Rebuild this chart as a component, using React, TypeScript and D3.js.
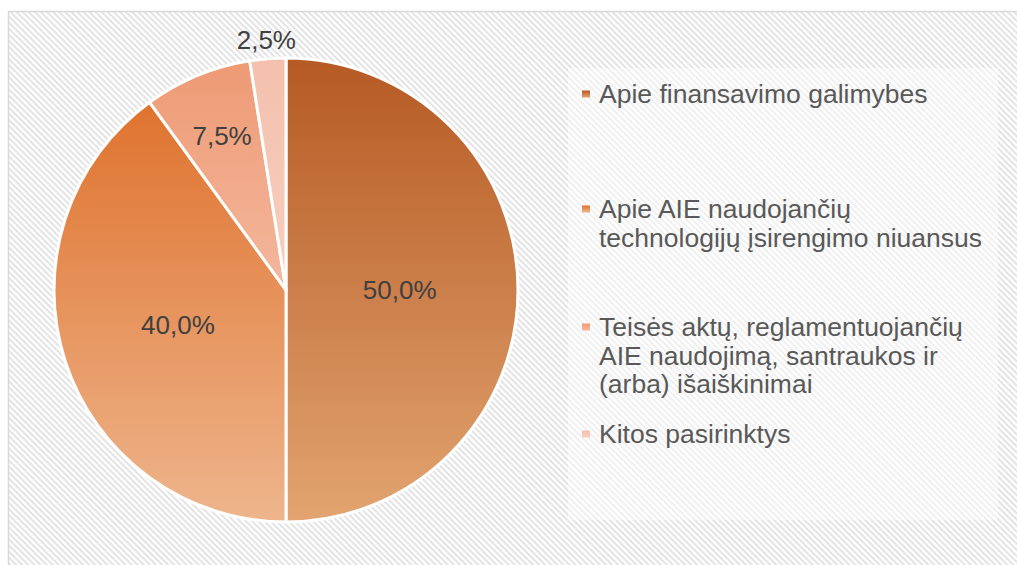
import React, { useEffect, useRef } from 'react';
import * as d3 from 'd3';

const categories = [
    ['Apie finansavimo galimybes'],
    ['Apie AIE naudojančių', 'technologijų įsirengimo niuansus'],
    ['Teisės aktų, reglamentuojančių', 'AIE naudojimą, santraukos ir', '(arba) išaiškinimai'],
    ['Kitos pasirinktys'],
];
const values = [50.0, 40.0, 7.5, 2.5];
const colorsTop = ['#b65a24', '#df732f', '#ee9a74', '#f4c0ad'];
const colorsBottom = ['#e2a470', '#eeb58c', '#f4b89e', '#f7cfc0'];
// first-line baseline of each legend entry
const legendBaselines = [103, 218, 336, 443];

const W = 1017;
const H = 565;

export default function App() {
    const svgRef = useRef<SVGSVGElement>(null);

    useEffect(() => {
        if (!svgRef.current) return;
        const svg = d3.select(svgRef.current);
        svg.selectAll('*').remove();

        const defs = svg.append('defs');

        // diagonal stripe background
        const pat = defs.append('pattern')
            .attr('id', 'stripes')
            .attr('patternUnits', 'userSpaceOnUse')
            .attr('width', 4.3)
            .attr('height', 4.3)
            .attr('patternTransform', 'rotate(45)');
        pat.append('rect').attr('width', 4.3).attr('height', 4.3).attr('fill', '#ffffff');
        pat.append('rect').attr('width', 4.3).attr('height', 2).attr('fill', '#e3e3e3');

        values.forEach((_, i) => {
            const g = defs.append('linearGradient')
                .attr('id', `grad${i}`)
                .attr('x1', '0%').attr('y1', '0%')
                .attr('x2', '0%').attr('y2', '100%');
            g.append('stop').attr('offset', '0%').attr('stop-color', colorsTop[i]);
            g.append('stop').attr('offset', '100%').attr('stop-color', colorsBottom[i]);
        });

        // chart area
        svg.append('rect')
            .attr('x', 8.5).attr('y', 11.5)
            .attr('width', W + 20).attr('height', H + 20)
            .attr('fill', 'url(#stripes)')
            .attr('stroke', '#d9d9d9')
            .attr('stroke-width', 1.5);

        // legend box overlay
        svg.append('rect')
            .attr('x', 568).attr('y', 68)
            .attr('width', 430).attr('height', 452)
            .attr('fill', '#ffffff')
            .attr('opacity', 0.45);

        const cx = 286;
        const cy = 290;
        const r = 232;

        const pie = d3.pie<number>().value(d => d).sort(null);
        const arcs = pie(values);
        const arc = d3.arc<d3.PieArcDatum<number>>().innerRadius(0).outerRadius(r);

        const g = svg.append('g').attr('transform', `translate(${cx},${cy})`);
        g.selectAll('path.slice')
            .data(arcs)
            .enter()
            .append('path')
            .attr('class', 'slice')
            .attr('d', arc)
            .attr('fill', (d, i) => `url(#grad${i})`)
            .attr('stroke', '#ffffff')
            .attr('stroke-width', 3)
            .attr('stroke-linejoin', 'round');

        const total = d3.sum(values);
        const fmt = (v: number) => (v / total * 100).toFixed(1).replace('.', ',') + '%';

        g.selectAll('text.lbl')
            .data(arcs)
            .enter()
            .append('text')
            .attr('class', 'lbl')
            .each(function (d) {
                const pct = d.data / total * 100;
                const lr = pct < 5 ? r * 1.08 : pct < 10 ? r * 0.72 : r * 0.49;
                const a = (d.startAngle + d.endAngle) / 2;
                d3.select(this)
                    .attr('x', Math.sin(a) * lr)
                    .attr('y', -Math.cos(a) * lr + 9);
            })
            .attr('text-anchor', 'middle')
            .attr('font-family', '"Liberation Sans", Arial, sans-serif')
            .attr('font-size', 26)
            .attr('fill', '#404040')
            .text(d => fmt(d.data));

        // legend
        const lg = svg.append('g');
        categories.forEach((lines, i) => {
            const by = legendBaselines[i];
            lg.append('rect')
                .attr('x', 582).attr('y', by - 12.5)
                .attr('width', 8).attr('height', 7)
                .attr('fill', `url(#grad${i})`);
            const t = lg.append('text')
                .attr('x', 599).attr('y', by)
                .attr('font-family', '"Liberation Sans", Arial, sans-serif')
                .attr('font-size', 26.5)
                .attr('fill', '#595959');
            lines.forEach((ln, j) => {
                t.append('tspan')
                    .attr('x', 599)
                    .attr('dy', j === 0 ? 0 : 28.5)
                    .text(ln);
            });
        });
    }, []);

    return (
        <svg
            ref={svgRef}
            width={W}
            height={H}
            style={{ position: 'absolute', left: 0, top: 0, background: '#ffffff' }}
        />
    );
}
